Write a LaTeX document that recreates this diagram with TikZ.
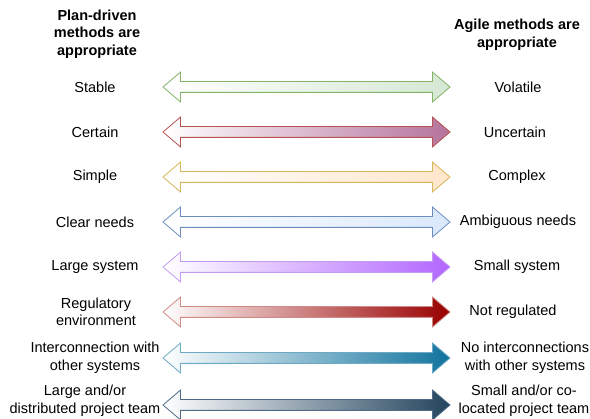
\documentclass[tikz,border=0pt]{standalone}
\usepackage{fontspec}
\setmainfont{Liberation Sans}
\usetikzlibrary{shapes.arrows}

\definecolor{grnline}{HTML}{82B366}
\definecolor{grnfill}{HTML}{D5E8D4}
\definecolor{redline}{HTML}{B85450}
\definecolor{pinkfill}{HTML}{B5739D}
\definecolor{yelline}{HTML}{D6B656}
\definecolor{orgfill}{HTML}{FFE6CC}
\definecolor{bluline}{HTML}{6C8EBF}
\definecolor{blufill}{HTML}{DAE8FC}
\definecolor{purline}{HTML}{C39CF2}
\definecolor{purfill}{HTML}{B266FF}
\definecolor{regline}{HTML}{D08A86}
\definecolor{regfill}{HTML}{990000}
\definecolor{tealline}{HTML}{6EA9C4}
\definecolor{tealfill}{HTML}{10739E}
\definecolor{navyline}{HTML}{4F6B88}
\definecolor{navyfill}{HTML}{23445D}

\begin{document}
\begin{tikzpicture}[
		x=1pt, y=-1pt,
		lbl/.style={align=center, font=\fontsize{14.5}{17.5}\selectfont},
		hdr/.style={align=center, font=\fontsize{14.5}{17.5}\selectfont\bfseries},
		dbl/.style={double arrow, minimum height=287pt, minimum width=0pt,
				inner xsep=0pt, inner ysep=5pt, double arrow head extend=9.5pt,
				double arrow tip angle=81, line width=0.8pt, left color=white}
	]
	\useasboundingbox (0,0) rectangle (590,419);
	\clip (0,0) rectangle (590,419);

	% column headings
	\node[hdr] (plan) at (97,34) {Plan-driven\\methods are\\appropriate};
	\node[hdr] (agile) at (517,35) {Agile methods are\\appropriate};

	% left column
	\node[lbl] (stable) at (95,87) {Stable};
	\node[lbl] (certain) at (95,132) {Certain};
	\node[lbl] (simple) at (95,177) {Simple};
	\node[lbl] (clear) at (95,222) {Clear needs};
	\node[lbl] (large) at (95,267) {Large system};
	\node[lbl] (regul) at (96,312) {Regulatory\\environment};
	\node[lbl] (inter) at (95,358) {Interconnection with\\other systems};
	\node[lbl] (distr) at (85,401) {Large and/or\\distributed project team};

	% right column
	\node[lbl] (volatile) at (518,87) {Volatile};
	\node[lbl] (uncert) at (515,132) {Uncertain};
	\node[lbl] (complex) at (517,177) {Complex};
	\node[lbl] (ambig) at (518,222) {Ambiguous needs};
	\node[lbl] (small) at (517,267) {Small system};
	\node[lbl] (notreg) at (513,312) {Not regulated};
	\node[lbl] (nointer) at (525,358) {No interconnections\\with other systems};
	\node[lbl] (coloc) at (524,401) {Small and/or co-\\located project team};

	% arrows between the two columns
	\node[dbl, draw=grnline, right color=grnfill] (a1) at (306.5,87) {};
	\node[dbl, draw=redline, right color=pinkfill] (a2) at (306.5,132) {};
	\node[dbl, draw=yelline, right color=orgfill] (a3) at (306.5,177) {};
	\node[dbl, draw=bluline, right color=blufill] (a4) at (306.5,222) {};
	\node[dbl, draw=purline, right color=purfill] (a5) at (306.5,267) {};
	\node[dbl, draw=regline, right color=regfill] (a6) at (306.5,312) {};
	\node[dbl, draw=tealline, right color=tealfill] (a7) at (306.5,358) {};
	\node[dbl, draw=navyline, right color=navyfill] (a8) at (306.5,405) {};
\end{tikzpicture}
\end{document}
